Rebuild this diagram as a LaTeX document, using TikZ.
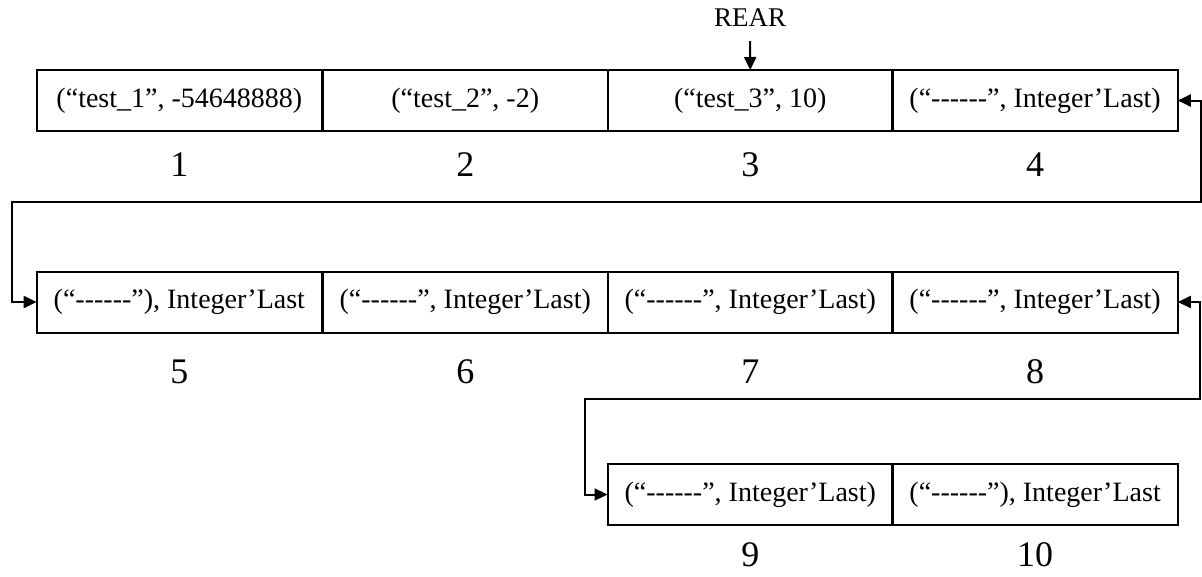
\documentclass[tikz,border=0pt]{standalone}
\usepackage{fontspec}
\setmainfont{Liberation Serif}[Ligatures=TeXOff]
\usetikzlibrary{arrows.meta}
\begin{document}
\begin{tikzpicture}[x=1pt,y=-1pt,
  cell/.style={draw, line width=2pt, minimum width=285.4pt, minimum height=61pt,
    inner sep=0pt, outer sep=0pt, font=\fontsize{28}{31}\selectfont},
  idx/.style={inner sep=0pt, font=\fontsize{36}{40}\selectfont},
  link/.style={line width=2pt, {Triangle[length=13pt,width=12pt]}-{Triangle[length=13pt,width=12pt]}},
  ptr/.style={line width=2pt, -{Triangle[length=13pt,width=12pt]}}]
\useasboundingbox (0,0) rectangle (1202,576);
% row 1
\node[cell] (b1) at (179.35,100.5) {(“test\_1”, -54648888)};
\node[cell] (b2) at (465.25,100.5) {(“test\_2”, -2)};
\node[cell] (b3) at (750.25,100.5) {(“test\_3”, 10)};
\node[cell] (b4) at (1035.1,100.5) {(“------”, Integer’Last)};
\node[idx] (n1) at (179.35,165) {1};
\node[idx] (n2) at (465.25,165) {2};
\node[idx] (n3) at (750.25,165) {3};
\node[idx] (n4) at (1035.1,165) {4};
% row 2
\node[cell] (b5) at (179.35,302) {(“------”), Integer’Last};
\node[cell] (b6) at (465.25,302) {(“------”, Integer’Last)};
\node[cell] (b7) at (750.25,302) {(“------”, Integer’Last)};
\node[cell] (b8) at (1035.1,302) {(“------”, Integer’Last)};
\node[idx] (n5) at (179.35,372) {5};
\node[idx] (n6) at (465.25,372) {6};
\node[idx] (n7) at (750.25,372) {7};
\node[idx] (n8) at (1035.1,372) {8};
% row 3
\node[cell] (b9) at (750.25,494.5) {(“------”, Integer’Last)};
\node[cell] (b10) at (1035.1,494.5) {(“------”), Integer’Last};
\node[idx] (n9) at (750.25,555) {9};
\node[idx] (n10) at (1035.1,555) {10};
% REAR pointer
\node[inner sep=0pt, font=\fontsize{27}{30}\selectfont] (rear) at (750,18) {REAR};
\draw[ptr, shorten <=14pt] (rear.south) -- (b3.north);
% links
\coordinate (c1) at (1201,202);
\coordinate (c2) at (11.7,202);
\coordinate (c3) at (1200,399);
\coordinate (c4) at (585,399);
\draw[link] (b4.east) -| (c1) -- (c2) |- (b5.west);
\draw[link] (b8.east) -| (c3) -- (c4) |- (b9.west);
\end{tikzpicture}
\end{document}
